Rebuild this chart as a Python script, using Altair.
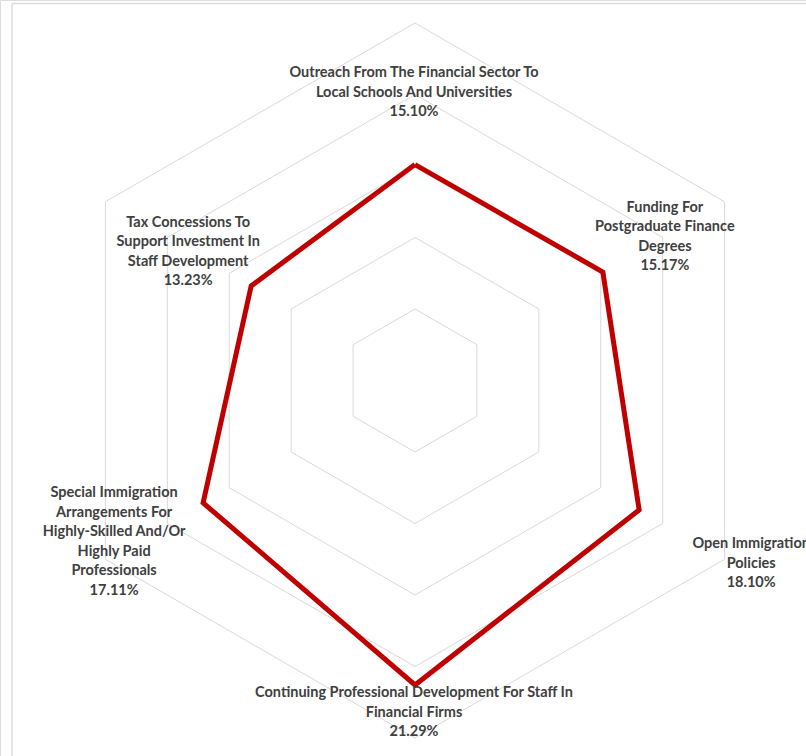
import math
import altair as alt
import pandas as pd

# ---------------- data ----------------
categories = [
    "Outreach From The Financial Sector To\nLocal Schools And Universities",
    "Funding For\nPostgraduate Finance\nDegrees",
    "Open Immigration\nPolicies",
    "Continuing Professional Development For Staff In\nFinancial Firms",
    "Special Immigration\nArrangements For\nHighly-Skilled And/Or\nHighly Paid\nProfessionals",
    "Tax Concessions To\nSupport Investment In\nStaff Development",
]
values = [15.10, 15.17, 18.10, 21.29, 17.11, 13.23]
grid_levels = [5, 10, 15, 20, 25]

# ---------------- layout ----------------
W, H = 806, 756
CX, CY = 415.0, 380.5        # centre of the radar, px
PX = 14.3                    # px per percentage point
LH = 19.5                    # label line height, px
# label block centre offsets from the data point (px, screen coords: +x right, +y down)
label_offsets = [(-1, -72), (62, -35), (112, 54), (-1, 28), (-89, 39), (-63, -34)]

n = len(categories)
angles = [math.pi / 2 - i * 2 * math.pi / n for i in range(n)]

x_dom = [-CX / PX, (W - CX) / PX]
y_dom = [-(H - CY) / PX, CY / PX]
xs = alt.Scale(domain=x_dom, nice=False, zero=False)
ys = alt.Scale(domain=y_dom, nice=False, zero=False)

# grid rings
grid_rows = []
for lv in grid_levels:
    for j in range(n + 1):
        a = angles[j % n]
        grid_rows.append({"ring": lv, "k": j, "x": lv * math.cos(a), "y": lv * math.sin(a)})
grid_df = pd.DataFrame(grid_rows)

# data polygon
poly_rows = []
for j in range(n + 1):
    i = j % n
    a = angles[i]
    poly_rows.append({"k": j, "x": values[i] * math.cos(a), "y": values[i] * math.sin(a)})
poly_df = pd.DataFrame(poly_rows)

# labels (Vega anchors the first line; shift so the block is centred)
lab_rows = []
for i in range(n):
    a = angles[i]
    dx, dy = label_offsets[i]
    text = categories[i] + "\n" + f"{values[i]:.2f}%"
    nl = text.count("\n") + 1
    dy_first = dy - (nl - 1) * LH / 2
    lab_rows.append({
        "x": values[i] * math.cos(a) + dx / PX,
        "y": values[i] * math.sin(a) - dy_first / PX,
        "label": text,
    })
lab_df = pd.DataFrame(lab_rows)

X = lambda: alt.X("x:Q", scale=xs, axis=None)
Y = lambda: alt.Y("y:Q", scale=ys, axis=None)

grid = alt.Chart(grid_df).mark_line(color="#d9d9d9", strokeWidth=1).encode(
    x=X(), y=Y(), detail="ring:N", order="k:Q"
)

poly = alt.Chart(poly_df).mark_line(
    color="#c00000", strokeWidth=5, strokeJoin="miter"
).encode(x=X(), y=Y(), order="k:Q")

labels = alt.Chart(lab_df).mark_text(
    lineBreak="\n", font="Lato", fontWeight="bold", fontSize=14.5, lineHeight=LH,
    align="center", baseline="middle", color="#404040", clip=True
).encode(x=X(), y=Y(), text="label:N")

frame_v = alt.Chart(pd.DataFrame({"a": [0]})).mark_rule(color="#dcdcdc", strokeWidth=1.5).encode(
    x=alt.value(12), y=alt.value(3.5), y2=alt.value(H)
)
frame_h = alt.Chart(pd.DataFrame({"a": [0]})).mark_rule(color="#dcdcdc", strokeWidth=1.5).encode(
    x=alt.value(12), x2=alt.value(W), y=alt.value(3.5)
)

chart = alt.layer(frame_v, frame_h, grid, poly, labels).properties(
    width=W, height=H, padding=0, autosize=alt.AutoSizeParams(type="none")
).configure_view(stroke=None).configure(background="white")

chart.save("out.html", embed_options={"renderer": "svg", "actions": False})
